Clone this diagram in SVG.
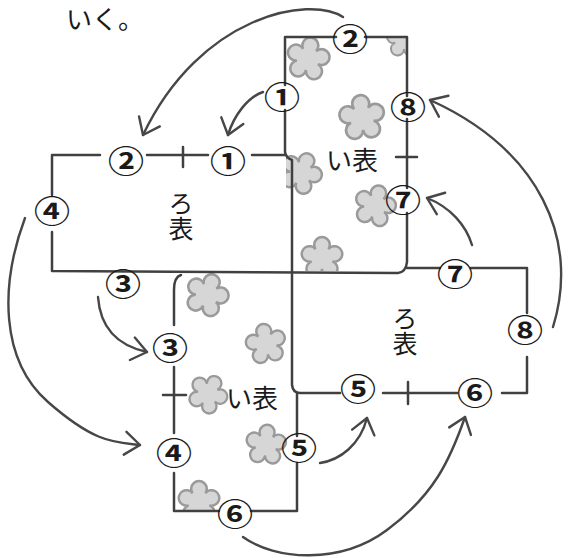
<svg xmlns="http://www.w3.org/2000/svg" width="574" height="558" viewBox="0 0 574 558">
  <style>
    .edge { fill: none; stroke: #404040; stroke-width: 2.5; stroke-linecap: round; stroke-linejoin: round; }
    .arrow { fill: none; stroke: #474747; stroke-width: 2.4; stroke-linecap: round; marker-end: url(#head); }
    .petal { fill: #d6d6d6; stroke: #9a9a9a; stroke-width: 1.6; }
    .num { font-family: "Noto Sans CJK JP", "DejaVu Sans", sans-serif; font-size: 30px; font-weight: 700; fill: #1a1a1a; text-anchor: middle; }
    .lbl { font-family: "Noto Sans CJK JP", sans-serif; font-size: 25px; fill: #1a1a1a; text-anchor: middle; }
    .vlbl { font-family: "Noto Sans CJK JP", sans-serif; font-size: 25px; fill: #1a1a1a; text-anchor: middle; writing-mode: vertical-rl; }
    .note { font-family: "Noto Sans CJK JP", sans-serif; font-size: 26px; fill: #1a1a1a; }
  </style>
  <defs>
    <marker id="head" viewBox="-18 -14 20 28" markerWidth="20" markerHeight="28" refX="0" refY="0" orient="auto" markerUnits="userSpaceOnUse">
      <path d="M-15,-11.5 L0,0 L-15,11.5" fill="none" stroke="#474747" stroke-width="2.4" stroke-linecap="round" stroke-linejoin="round"/>
    </marker>
    <!-- five-lobed blossom, unit size about 27px across -->
    <path id="flower" d="M4.11,-5.66 A5 5 0 1 1 6.66,2.16 A5 5 0 1 1 0,7 A5 5 0 1 1 -6.66,2.16 A5 5 0 1 1 -4.11,-5.66 A5 5 0 1 1 4.11,-5.66 Z"/>
    <clipPath id="clipUpper"><rect x="286" y="38" width="120" height="233"/></clipPath>
    <clipPath id="clipLower"><rect x="175" y="273" width="121" height="237"/></clipPath>
  </defs>

  <rect width="574" height="558" fill="#ffffff"/>

  <text class="note" x="66" y="29">いく。</text>

  <!-- blossoms on the い pieces -->
  <g id="flowers-upper" clip-path="url(#clipUpper)">
    <use href="#flower" class="petal" transform="translate(308,59) scale(1.6) rotate(10)"/>
    <use href="#flower" class="petal" transform="translate(362,118) scale(1.7) rotate(-5)"/>
    <use href="#flower" class="petal" transform="translate(301,173) scale(1.55) rotate(25)"/>
    <use href="#flower" class="petal" transform="translate(375,206) scale(1.55) rotate(15)"/>
    <use href="#flower" class="petal" transform="translate(322,258) scale(1.55) rotate(0)"/>
    <use href="#flower" class="petal" transform="translate(404,40) scale(1.3) rotate(0)"/>
  </g>
  <g id="flowers-lower" clip-path="url(#clipLower)">
    <use href="#flower" class="petal" transform="translate(207,295) scale(1.6) rotate(20)"/>
    <use href="#flower" class="petal" transform="translate(266,344) scale(1.5) rotate(-10)"/>
    <use href="#flower" class="petal" transform="translate(208,394) scale(1.45) rotate(30)"/>
    <use href="#flower" class="petal" transform="translate(266,445) scale(1.5) rotate(5)"/>
    <use href="#flower" class="petal" transform="translate(199,502) scale(1.55) rotate(0)"/>
  </g>

  <!-- outline of the four pieces -->
  <g id="outline">
    <g id="ro-left">
      <path class="edge" d="M100,155 L52,155 L52,195"/>
      <path class="edge" d="M147,155 L208,155"/>
      <path class="edge" d="M183,147 L183,167"/>
      <path class="edge" d="M252,155 L285,155"/>
      <path class="edge" d="M52,232 L52,271 L398,273 Q406,272 407,262 L407,213"/>
      <text class="vlbl" x="181" y="216">ろ表</text>
    </g>
    <g id="i-upper">
      <path class="edge" d="M285,85 L285,37 L336,37"/>
      <path class="edge" d="M365,37 L407,37 L407,96"/>
      <path class="edge" d="M407,119 L407,188"/>
      <path class="edge" d="M396,157 L417,157"/>
      <path class="edge" d="M285,110 L285,152 Q286,158 292,160 L292,385 Q293,393 300,393 L340,393"/>
      <text class="lbl" x="352" y="170" style="font-size:26px">い表</text>
    </g>
    <g id="ro-right">
      <path class="edge" d="M407,268 L440,268"/>
      <path class="edge" d="M471,268 L527,268 L527,313"/>
      <path class="edge" d="M527,357 L527,393 L502,393"/>
      <path class="edge" d="M457,393 L383,393"/>
      <path class="edge" d="M408,382 L408,404"/>
      <text class="vlbl" x="405" y="331">ろ表</text>
    </g>
    <g id="i-lower">
      <path class="edge" d="M181,275 Q174,277 174,290 L174,325"/>
      <path class="edge" d="M174,367 L174,433"/>
      <path class="edge" d="M163,395 L186,395"/>
      <path class="edge" d="M174,473 L174,511 L219,511"/>
      <path class="edge" d="M251,511 L297,511 L297,463"/>
      <path class="edge" d="M297,436 L297,394"/>
      <text class="lbl" x="252" y="408" style="font-size:26px">い表</text>
    </g>
  </g>

  <!-- circled edge numbers -->
  <g id="numbers">
    <text class="num" transform="translate(282,108) scale(1.2,1)">①</text>
    <text class="num" transform="translate(228,171.5) scale(1.2,1)">①</text>
    <text class="num" transform="translate(350,50) scale(1.2,1)">②</text>
    <text class="num" transform="translate(126,171.5) scale(1.2,1)">②</text>
    <text class="num" transform="translate(123,295) scale(1.2,1)">③</text>
    <text class="num" transform="translate(170,359) scale(1.2,1)">③</text>
    <text class="num" transform="translate(52,222) scale(1.2,1)">④</text>
    <text class="num" transform="translate(174,464) scale(1.2,1)">④</text>
    <text class="num" transform="translate(299,459) scale(1.2,1)">⑤</text>
    <text class="num" transform="translate(358,399.5) scale(1.2,1)">⑤</text>
    <text class="num" transform="translate(235,524.5) scale(1.2,1)">⑥</text>
    <text class="num" transform="translate(475,404) scale(1.2,1)">⑥</text>
    <text class="num" transform="translate(403,211) scale(1.2,1)">⑦</text>
    <text class="num" transform="translate(455,284.5) scale(1.2,1)">⑦</text>
    <text class="num" transform="translate(408,118) scale(1.2,1)">⑧</text>
    <text class="num" transform="translate(525,341) scale(1.2,1)">⑧</text>
  </g>

  <!-- folding arrows -->
  <g id="connectors">
    <path class="arrow" d="M343,17 C310,-5 200,15 143,135"/>
    <path class="arrow" d="M263,92 C248,97 234,115 228,135"/>
    <path class="arrow" d="M25,218 C0,285 0,360 48,402 S115,442 140,445"/>
    <path class="arrow" d="M98,297 C100,325 115,345 147,352"/>
    <path class="arrow" d="M320,463 C340,460 360,445 367,418"/>
    <path class="arrow" d="M243,537 C275,560 340,565 387,530 S450,460 465,417"/>
    <path class="arrow" d="M472,245 C466,225 450,207 427,198"/>
    <path class="arrow" d="M553,327 C580,240 540,150 430,100"/>
  </g>
</svg>
